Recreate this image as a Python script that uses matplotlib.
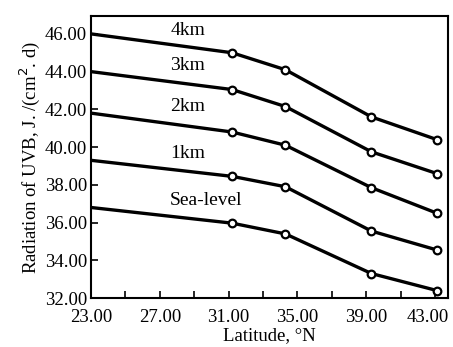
import matplotlib.pyplot as plt
import matplotlib.transforms as mtransforms
from matplotlib.ticker import FormatStrFormatter

# Data
start_lat = 23.0
latitudes = [31.2, 34.3, 39.3, 43.1]

sea_level = [36.8, 35.97, 35.4, 33.3, 32.4]
km1 = [39.3, 38.45, 37.9, 35.55, 34.55]
km2 = [41.8, 40.8, 40.1, 37.85, 36.5]
km3 = [44.0, 43.05, 42.15, 39.75, 38.6]
km4 = [46.0, 45.0, 44.1, 41.6, 40.4]

series = [km4, km3, km2, km1, sea_level]
labels = ['4km', '3km', '2km', '1km', 'Sea-level']
label_pos = [(27.6, 46.2), (27.6, 44.35), (27.6, 42.15), (27.6, 39.65), (27.6, 37.15)]

x_ticks = [23, 27, 31, 35, 39, 43]
x_minor = [25, 29, 33, 37, 41]
y_ticks = [32, 34, 36, 38, 40, 42, 44, 46]

plt.rcParams['font.family'] = ['Liberation Serif', 'DejaVu Serif']

fig = plt.figure(figsize = (4.53, 3.47), dpi = 100)
ax = fig.add_axes([0.201, 0.141, 0.788, 0.813])

xs = [start_lat] + latitudes
for vals in series:
    ax.plot(xs, vals, color = 'black', linewidth = 2.4, solid_capstyle = 'butt')
    ax.plot(latitudes, vals[1:], linestyle = 'none', marker = 'o', markersize = 5.5,
            markerfacecolor = 'white', markeredgecolor = 'black', markeredgewidth = 1.6)

for text, (x, y) in zip(labels, label_pos):
    ax.text(x, y, text, fontsize = 14, ha = 'left', va = 'center')

ax.set_xlim(23, 43.75)
ax.set_ylim(32, 46.95)
ax.set_xticks(x_ticks)
ax.set_xticks(x_minor, minor = True)
ax.set_yticks(y_ticks)
ax.xaxis.set_major_formatter(FormatStrFormatter('%.2f'))
ax.yaxis.set_major_formatter(FormatStrFormatter('%.2f'))
ax.tick_params(which = 'both', direction = 'in', labelsize = 13.5, width = 1.2)
ax.tick_params(which = 'major', length = 5)
ax.tick_params(which = 'minor', length = 5)
ax.tick_params(axis = 'x', which = 'major', pad = 8)
ax.tick_params(axis = 'y', which = 'major', pad = 3)

# nudge the last x label so it stays on the canvas
last = ax.get_xticklabels()[-1]
last.set_transform(last.get_transform() + mtransforms.ScaledTranslation(-0.07, 0, fig.dpi_scale_trans))

for s in ax.spines.values():
    s.set_linewidth(1.5)

ax.set_xlabel('Latitude, °N', fontsize = 13.5, labelpad = 1)
ax.set_ylabel('Radiation of UVB, J. /(cm$^2$. d)', fontsize = 13.5, labelpad = 2)

plt.savefig('out.png', dpi = 100)
